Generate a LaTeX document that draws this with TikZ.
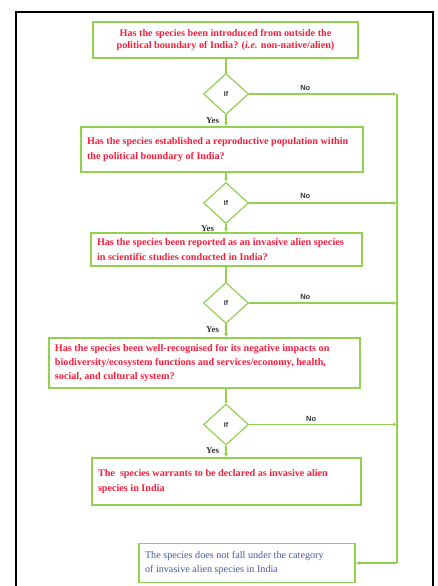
\documentclass[tikz,border=0pt]{standalone}
\usepackage{fontspec}
\setmainfont{Liberation Serif}
\setsansfont{Liberation Sans}
\usepackage{xcolor}
\definecolor{verdes}{RGB}{146, 208, 80}
\definecolor{rojos}{RGB}{250, 30, 60}
\definecolor{azules}{RGB}{70, 90, 160}
\definecolor{grises}{RGB}{50, 50, 50}
\usepackage{tikz}
\usetikzlibrary{shapes.geometric, arrows.meta, positioning}
\hyphenpenalty=10000
\exhyphenpenalty=10000
\tikzset{
  caja/.style={draw=verdes, line width=1.2bp, text=rojos, inner xsep=6bp,
    font=\fontsize{10.2}{14.5}\selectfont\bfseries, align=flush left},
  cond/.style={diamond, draw=verdes, line width=1.2bp, aspect=1.1,
    minimum width=45bp, minimum height=41bp, inner sep=0pt,
    font=\sffamily\bfseries\fontsize{7}{8}\selectfont, text=grises},
  flecha/.style={draw=verdes, line width=1.2bp, -{Latex[length=4bp,width=4bp]}},
  linea/.style={draw=verdes, line width=1.2bp},
  si/.style={font=\bfseries\fontsize{9}{10}\selectfont, text=grises},
  no/.style={font=\sffamily\bfseries\fontsize{7.5}{8}\selectfont, text=grises}
}
\begin{document}
\begin{tikzpicture}[x=1bp, y=-1bp]
  \useasboundingbox (0,0) rectangle (438,586);
  % Marco
  \draw[line width=2bp] (16,12) rectangle (433,600);

  % Preguntas
  \node[caja, align=center, minimum width=265bp, minimum height=36bp,
    font=\fontsize{10.2}{12}\selectfont\bfseries] (p1) at (225.5,40)
    {Has the species been introduced from outside the\\
     political boundary of India? (\textit{i.e.} non-native/alien)};
  \node[caja, minimum height=45bp, text width=270bp] (p2) at (222,149.5)
    {Has the species established a reproductive population within\\
     the political boundary of India?};
  \node[caja, minimum height=33bp, text width=259bp] (p3) at (226.5,249.5)
    {Has the species been reported as an invasive alien species\\
     in scientific studies conducted in India?};
  \node[caja, minimum height=50bp, text width=299bp] (p4) at (204.5,363)
    {Has the species been well-recognised for its negative impacts on\\
     biodiversity/ecosystem functions and services/economy, health,\\
     social, and cultural system?};
  \node[caja, minimum height=47bp, text width=257bp] (si) at (226.5,481.5)
    {The\ \ species warrants to be declared as invasive alien\\ species in India};
  \node[caja, minimum height=39bp, text width=204bp, text=azules,
    font=\fontsize{10.2}{15}\selectfont] (nosi) at (247,563)
    {The species does not fall under the category\\
     of invasive alien species in India};

  % Condiciones
  \node[cond] (c1) at (226,94) {If};
  \node[cond] (c2) at (226,203) {If};
  \node[cond] (c3) at (226,303) {If};
  \node[cond] (c4) at (226,424.5) {If};

  % Riel derecho
  \coordinate (rarriba) at (397,94);
  \coordinate (rabajo) at (397,563);

  % Camino del si
  \draw[linea] (p1.south -| c1) -- (c1.north);
  \draw[flecha] (c1.south) -- (c1.south |- p2.north) node[si, pos=0.45, left=3bp] {Yes};
  \draw[flecha] (p2.south -| c2) -- (c2.north);
  \draw[flecha] (c2.south) -- (c2.south |- p3.north) node[si, pos=0.5, left=8bp] {Yes};
  \draw[linea] (p3.south -| c3) -- (c3.north);
  \draw[flecha] (c3.south) -- (c3.south |- p4.north) node[si, pos=0.4, left=3bp] {Yes};
  \draw[linea] (p4.south -| c4) -- (c4.north);
  \draw[flecha] (c4.south) -- (c4.south |- si.north) node[si, pos=0.4, left=3bp] {Yes};

  % Camino del no
  \draw[flecha] (c1.east) -- (c1.east -| rarriba) node[no, pos=0.38, above=0bp] {No};
  \draw[flecha] (c2.east) -- (c2.east -| rarriba) node[no, pos=0.38, above=1bp] {No};
  \draw[flecha] (c3.east) -- (c3.east -| rarriba) node[no, pos=0.38, above=0bp] {No};
  \draw[flecha] (c4.east) -- (c4.east -| rarriba) node[no, pos=0.42, above=-1bp] {No};
  \draw[linea] (rarriba) -- (rabajo);
  \draw[flecha] (rabajo) -- (nosi.east);
\end{tikzpicture}
\end{document}
